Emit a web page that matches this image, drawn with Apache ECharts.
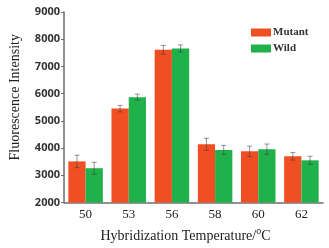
<!DOCTYPE html>
<html>
<head>
<meta charset="utf-8">
<script src="https://cdn.jsdelivr.net/npm/echarts@6/dist/echarts.min.js"></script>
<style>
  html, body { margin: 0; padding: 0; background: #fff; }
  #chart { width: 329px; height: 248px; }
</style>
</head>
<body>
<div id="chart"></div>
<script>
// data
const temperatures = ['50', '53', '56', '58', '60', '62']
const mutant = [3510, 5450, 7610, 4140, 3880, 3700]
const wild = [3260, 5870, 7660, 3930, 3960, 3550]
const mutantErr = [230, 120, 160, 220, 190, 140]
const wildErr = [220, 110, 130, 170, 190, 150]
const yTicks = [2000, 9000, 1000] // min, max, interval

const MUTANT_COLOR = '#f04e23'
const WILD_COLOR = '#21b14b'
const AXIS_COLOR = '#6d6d6d'

// error bars drawn as custom series over each bar
const errorSeries = (values, errs, seriesIndex) => ({
  type: 'custom',
  z: 10,
  data: values.map((v, i) => [i, v - errs[i], v + errs[i]]),
  renderItem: (params, api) => {
    const lo = api.coord([api.value(0), api.value(1)])
    const hi = api.coord([api.value(0), api.value(2)])
    const bandW = api.size([1, 0])[0]
    const barW = bandW * 0.8 / 2
    const x = lo[0] + (seriesIndex === 0 ? -barW / 2 : barW / 2)
    const cap = 2.5
    const style = { stroke: 'rgba(60,60,60,0.55)', lineWidth: 1 }
    return {
      type: 'group',
      children: [
        { type: 'line', shape: { x1: x, y1: lo[1], x2: x, y2: hi[1] }, style },
        { type: 'line', shape: { x1: x - cap, y1: hi[1], x2: x + cap, y2: hi[1] }, style },
        { type: 'line', shape: { x1: x - cap, y1: lo[1], x2: x + cap, y2: lo[1] }, style }
      ]
    }
  }
})

const chart = echarts.init(document.getElementById('chart'))
chart.setOption({
  animation: false,
  legend: {
    data: ['Mutant', 'Wild'],
    orient: 'vertical',
    left: 246,
    top: 22,
    itemWidth: 20,
    itemHeight: 8,
    itemGap: 5,
    icon: 'rect',
    textStyle: { fontFamily: 'Liberation Serif', fontWeight: 'bold', fontSize: 11, color: '#333', padding: [0, 0, 0, -3] }
  },
  grid: { left: 61, right: 6, top: 12, bottom: 44 },
  xAxis: {
    type: 'category',
    data: temperatures,
    name: 'Hybridization Temperature/{sup|o}C',
    nameLocation: 'middle',
    nameGap: 24,
    nameTextStyle: {
      fontFamily: 'Liberation Serif', fontSize: 14, color: '#222',
      padding: [0, 16, 0, 0],
      rich: { sup: { fontFamily: 'Liberation Serif', fontSize: 10, color: '#222', verticalAlign: 'top', padding: [0, 0, 9, 0] } }
    },
    axisLine: { lineStyle: { color: AXIS_COLOR, width: 1.5 } },
    axisTick: { alignWithLabel: true, length: 3, lineStyle: { color: AXIS_COLOR } },
    axisLabel: { fontFamily: 'Liberation Serif', fontSize: 13, color: '#222', margin: 6 }
  },
  yAxis: {
    type: 'value',
    min: yTicks[0],
    max: yTicks[1],
    interval: yTicks[2],
    name: 'Fluorescence Intensity',
    nameLocation: 'middle',
    nameGap: 42,
    nameTextStyle: { fontFamily: 'Liberation Serif', fontSize: 14, color: '#222', padding: [0, 0, 0, 20] },
    axisLine: { show: true, lineStyle: { color: AXIS_COLOR, width: 1.5 } },
    axisTick: { show: true, length: 3, lineStyle: { color: AXIS_COLOR } },
    splitLine: { show: false },
    axisLabel: {
      fontFamily: 'Open Sans', fontWeight: 'bold', fontSize: 11, color: '#333', margin: 4,
      formatter: v => String(v)
    }
  },
  series: [
    { name: 'Mutant', type: 'bar', data: mutant, barGap: '0%', barCategoryGap: '20%', itemStyle: { color: MUTANT_COLOR } },
    { name: 'Wild', type: 'bar', data: wild, barGap: '0%', barCategoryGap: '20%', itemStyle: { color: WILD_COLOR } },
    errorSeries(mutant, mutantErr, 0),
    errorSeries(wild, wildErr, 1)
  ]
})
</script>
</body>
</html>
